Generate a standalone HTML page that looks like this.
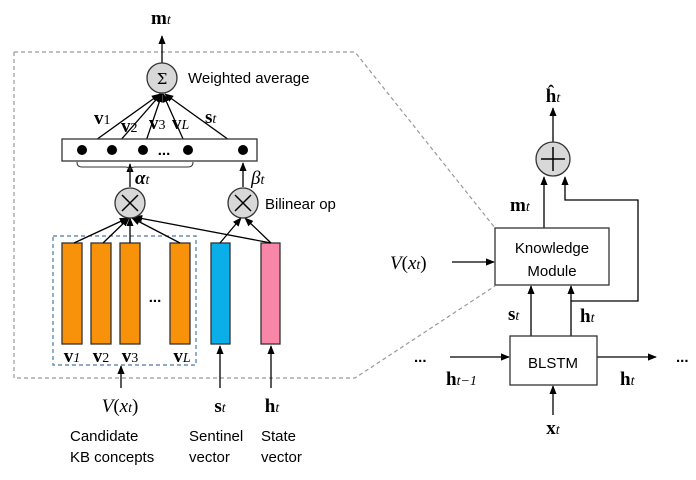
<!DOCTYPE html>
<html><head><meta charset="utf-8"><style>
body{margin:0;background:#fff}
svg{display:block}
.m{font-family:"Liberation Serif",serif;font-size:19px}
.b{font-weight:bold}
.s{font-family:"Liberation Sans",sans-serif;font-size:15px}
.i{font-style:italic}
</style></head><body>
<svg width="696" height="480" viewBox="0 0 696 480" xmlns="http://www.w3.org/2000/svg">
<defs><marker id="a" viewBox="0 0 10 10" refX="9" refY="5" markerWidth="7" markerHeight="7" orient="auto-start-reverse"><path d="M0,1 L10,5 L0,9 z" fill="#000"/></marker></defs>
<g stroke="#999" stroke-width="1.2" stroke-dasharray="4,3" fill="none">
<path d="M14,52 L355,52 L495,228"/>
<path d="M14,52 L14,378 L355,378 L495,286"/>
</g>
<rect x="53" y="236" width="143" height="129" fill="none" stroke="#4a78a8" stroke-width="1.2" stroke-dasharray="4,3"/>
<g stroke="#333" stroke-width="1.3">
<rect x="62" y="243" width="20" height="101" fill="#f7920a"/>
<rect x="91" y="243" width="20" height="101" fill="#f7920a"/>
<rect x="120" y="243" width="20" height="101" fill="#f7920a"/>
<rect x="170" y="243" width="20" height="101" fill="#f7920a"/>
<rect x="211" y="243" width="19" height="101" fill="#0aaee8"/>
<rect x="261" y="243" width="19" height="101" fill="#f886a8"/>
</g>
<text x="155" y="302" class="s" text-anchor="middle" font-weight="bold">...</text>
<g class="m b" text-anchor="middle">
<text x="72" y="362">v<tspan class="i" font-weight="normal" font-size="14">1</tspan></text>
<text x="101" y="362">v<tspan font-weight="normal" font-size="14">2</tspan></text>
<text x="130" y="362">v<tspan font-weight="normal" font-size="14">3</tspan></text>
<text x="182" y="362">v<tspan class="i" font-weight="normal" font-size="14">L</tspan></text>
</g>
<g stroke="#000" stroke-width="1.3" fill="none" marker-end="url(#a)">
<line x1="74" y1="243" x2="128" y2="218"/>
<line x1="103" y1="243" x2="129" y2="218"/>
<line x1="130" y1="243" x2="130" y2="218"/>
<line x1="180" y1="243" x2="132" y2="218"/>
<line x1="271" y1="243" x2="134" y2="217"/>
<line x1="220" y1="243" x2="241" y2="218"/>
<line x1="271" y1="243" x2="245" y2="218"/>
<line x1="121" y1="388" x2="121" y2="366"/>
<line x1="220" y1="388" x2="220" y2="346"/>
<line x1="271" y1="388" x2="271" y2="346"/>
<line x1="130" y1="187" x2="130" y2="164"/>
<line x1="243" y1="187" x2="243" y2="163"/>
<line x1="82" y1="150" x2="160" y2="94"/>
<line x1="112" y1="150" x2="161" y2="94"/>
<line x1="143" y1="150" x2="162" y2="94"/>
<line x1="188" y1="150" x2="163" y2="94"/>
<line x1="243" y1="150" x2="165" y2="94"/>
<line x1="162" y1="63" x2="162" y2="36"/>
</g>
<path d="M77,162 q0,5 5,5 L125,167 q5,0 5,4 q0,-4 5,-4 L188,167 q5,0 5,-5" fill="none" stroke="#333" stroke-width="1"/>
<rect x="62" y="139" width="195" height="22" fill="#fff" stroke="#333" stroke-width="1.3"/>
<g fill="#000"><circle cx="82" cy="150" r="5"/><circle cx="112" cy="150" r="5"/><circle cx="143" cy="150" r="5"/><circle cx="188" cy="150" r="5"/><circle cx="243" cy="150" r="5"/></g>
<text x="164" y="155" class="s" text-anchor="middle" font-weight="bold">...</text>
<g stroke="#333" stroke-width="1.3" fill="#d8d8d8">
<circle cx="162" cy="78" r="15"/><circle cx="130" cy="203" r="15"/><circle cx="243" cy="203" r="15"/>
</g>
<text x="162" y="84" font-family="DejaVu Serif,serif" font-size="15" text-anchor="middle">Σ</text>
<g stroke="#000" stroke-width="1.5"><path d="M122,195 L138,211 M138,195 L122,211 M235,195 L251,211 M251,195 L235,211"/></g>
<text x="188" y="83" class="s">Weighted average</text>
<text x="265" y="209" class="s">Bilinear op</text>
<g class="m">
<text x="151" y="24" class="b">m<tspan class="i" font-weight="normal" font-size="14">t</tspan></text>
<text x="94" y="124" class="b">v<tspan font-weight="normal" font-size="14">1</tspan></text>
<text x="121" y="132" class="b">v<tspan font-weight="normal" font-size="14">2</tspan></text>
<text x="149" y="129" class="b">v<tspan font-weight="normal" font-size="14">3</tspan></text>
<text x="172" y="129" class="b">v<tspan class="i" font-weight="normal" font-size="14">L</tspan></text>
<text x="205" y="123" class="b">s<tspan class="i" font-weight="normal" font-size="14">t</tspan></text>
<text x="135" y="184" class="b i">α<tspan font-weight="normal" font-size="14">t</tspan></text>
<text x="251" y="184" class="i">β<tspan font-size="14">t</tspan></text>
<text x="120" y="412" text-anchor="middle"><tspan class="i">V</tspan>(<tspan class="i">x</tspan><tspan class="i" font-size="14">t</tspan>)</text>
<text x="220" y="412" text-anchor="middle" class="b">s<tspan class="i" font-weight="normal" font-size="14">t</tspan></text>
<text x="272" y="412" text-anchor="middle" class="b">h<tspan class="i" font-weight="normal" font-size="14">t</tspan></text>
</g>
<g class="s"><text x="70" y="441">Candidate</text><text x="70" y="462">KB concepts</text>
<text x="189" y="441">Sentinel</text><text x="189" y="462">vector</text>
<text x="261" y="441">State</text><text x="261" y="462">vector</text></g>
<!-- right -->
<g stroke="#000" stroke-width="1.3" fill="none" marker-end="url(#a)">
<line x1="553" y1="142" x2="553" y2="108"/>
<line x1="544" y1="228" x2="544" y2="177"/>
<path d="M571,301 L638,301 L638,200 L565,200 L565,177"/>
<line x1="452" y1="262" x2="494" y2="262"/>
<line x1="531" y1="336" x2="531" y2="286"/>
<line x1="571" y1="336" x2="571" y2="286"/>
<line x1="450" y1="357" x2="509" y2="357"/>
<line x1="597" y1="357" x2="656" y2="357"/>
<line x1="553" y1="415" x2="553" y2="386"/>
</g>
<circle cx="553" cy="159" r="17" fill="#d8d8d8" stroke="#333" stroke-width="1.3"/>
<path d="M541,159 L565,159 M553,147 L553,171" stroke="#000" stroke-width="1.5"/>
<rect x="495" y="228" width="114" height="57" fill="#fff" stroke="#333" stroke-width="1.3"/>
<rect x="510" y="336" width="87" height="49" fill="#fff" stroke="#333" stroke-width="1.3"/>
<g class="s" text-anchor="middle" font-size="16"><text x="552" y="253">Knowledge</text><text x="552" y="276">Module</text><text x="553" y="368">BLSTM</text></g>
<g class="m">
<text x="553" y="102" text-anchor="middle" class="b">ĥ<tspan class="i" font-weight="normal" font-size="14">t</tspan></text>
<text x="510" y="211" class="b">m<tspan class="i" font-weight="normal" font-size="14">t</tspan></text>
<text x="390" y="269"><tspan class="i">V</tspan>(<tspan class="i">x</tspan><tspan class="i" font-size="14">t</tspan>)</text>
<text x="508" y="320" class="b">s<tspan class="i" font-weight="normal" font-size="14">t</tspan></text>
<text x="580" y="322" class="b">h<tspan class="i" font-weight="normal" font-size="14">t</tspan></text>
<text x="446" y="385" class="b">h<tspan class="i" font-weight="normal" font-size="14">t−1</tspan></text>
<text x="620" y="385" class="b">h<tspan class="i" font-weight="normal" font-size="14">t</tspan></text>
<text x="553" y="434" text-anchor="middle" class="b">x<tspan class="i" font-weight="normal" font-size="14">t</tspan></text>
</g>
<text x="414" y="362" class="s" font-weight="bold">...</text>
<text x="676" y="362" class="s" font-weight="bold">...</text>
</svg>
</body></html>
